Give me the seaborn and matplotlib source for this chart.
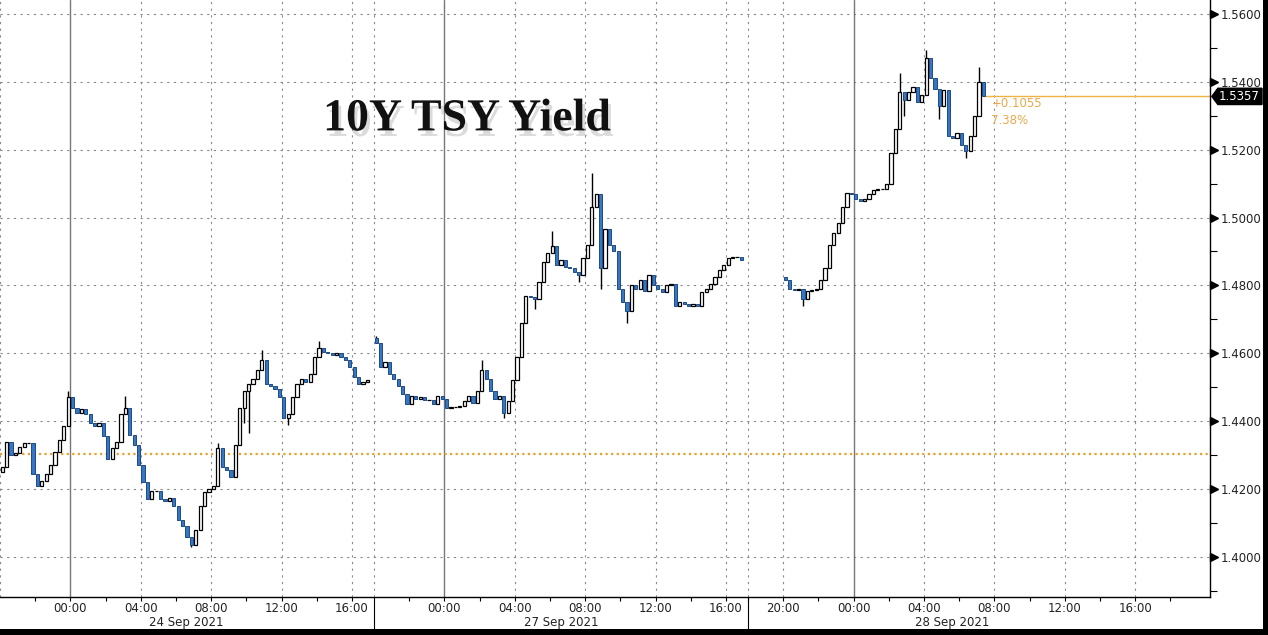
import matplotlib
matplotlib.use("Agg")
import matplotlib.pyplot as plt
import matplotlib.patheffects as pe
import matplotlib.transforms as mtransforms
from matplotlib.patches import Polygon, Rectangle
import numpy as np
import pandas as pd
import seaborn as sns

# ------------------------------------------------------------
# 10Y Treasury yield, 15-minute bars, three trading sessions
# ------------------------------------------------------------
s1_open = 1.4250
s1_close = [
    1.4265, 1.4340, 1.4300, 1.4305, 1.4325, 1.4335, 1.4335, 1.4245, 1.4210, 1.4225,
    1.4245, 1.4270, 1.4310, 1.4345, 1.4385, 1.4470, 1.4440, 1.4425, 1.4435, 1.4420,
    1.4395, 1.4385, 1.4395, 1.4355, 1.4290, 1.4320, 1.4340, 1.4420, 1.4440, 1.4360,
    1.4330, 1.4270, 1.4220, 1.4170, 1.4195, 1.4195, 1.4170, 1.4165, 1.4175, 1.4150,
    1.4110, 1.4090, 1.4060, 1.4035, 1.4080, 1.4150, 1.4190, 1.4200, 1.4210, 1.4320,
    1.4265, 1.4255, 1.4235, 1.4330, 1.4440, 1.4490, 1.4510, 1.4525, 1.4550, 1.4580,
    1.4510, 1.4505, 1.4495, 1.4470, 1.4410, 1.4420, 1.4470, 1.4510, 1.4525, 1.4515,
    1.4540, 1.4590, 1.4615, 1.4605, 1.4600, 1.4595, 1.4600, 1.4590, 1.4580, 1.4560,
    1.4530, 1.4510, 1.4515, 1.4520,
]
s1_wicks = [(15, 1.4490), (28, 1.4475), (43, 1.4030), (49, 1.4335), (55, 1.4395),
            (56, 1.4365), (59, 1.4610), (65, 1.4390), (72, 1.4635)]

s2_open = 1.4645
s2_close = [
    1.4630, 1.4560, 1.4575, 1.4540, 1.4525, 1.4505, 1.4480, 1.4450, 1.4475, 1.4465,
    1.4470, 1.4463, 1.4463, 1.4450, 1.4475, 1.4465, 1.4440, 1.4443, 1.4443, 1.4445,
    1.4460, 1.4475, 1.4455, 1.4490, 1.4550, 1.4525, 1.4490, 1.4465, 1.4475, 1.4425,
    1.4460, 1.4520, 1.4590, 1.4690, 1.4770, 1.4765, 1.4760, 1.4810, 1.4870, 1.4895,
    1.4915, 1.4860, 1.4875, 1.4855, 1.4850, 1.4840, 1.4830, 1.4880, 1.4920, 1.5030,
    1.5070, 1.4850, 1.4965, 1.4920, 1.4900, 1.4790, 1.4750, 1.4725, 1.4800, 1.4790,
    1.4815, 1.4785, 1.4830, 1.4800, 1.4790, 1.4780, 1.4800, 1.4805, 1.4740, 1.4750,
    1.4745, 1.4740, 1.4745, 1.4740, 1.4780, 1.4790, 1.4805, 1.4825, 1.4845, 1.4860,
    1.4880, 1.4885, 1.4885, 1.4875,
]
s2_wicks = [(0, 1.4650), (24, 1.4580), (29, 1.4410), (36, 1.4730), (40, 1.4960),
            (46, 1.4810), (49, 1.5130), (51, 1.4790), (57, 1.4690)]

s3_open = 1.4825
s3_close = [
    1.4815, 1.4790, 1.4787, 1.4790, 1.4760, 1.4785, 1.4787, 1.4790, 1.4815, 1.4850,
    1.4920, 1.4955, 1.4985, 1.5030, 1.5072, 1.5070, 1.5055, 1.5050, 1.5055, 1.5070,
    1.5080, 1.5085, 1.5085, 1.5100, 1.5190, 1.5260, 1.5370, 1.5345, 1.5370, 1.5385,
    1.5340, 1.5360, 1.5470, 1.5410, 1.5380, 1.5330, 1.5375, 1.5240, 1.5235, 1.5250,
    1.5215, 1.5195, 1.5240, 1.5300, 1.5400, 1.5357,
]
s3_wicks = [(4, 1.4738), (26, 1.5425), (27, 1.5300), (32, 1.5495), (35, 1.5290),
            (41, 1.5175), (44, 1.5445)]

prev_close = 1.4302

# chart hours on the compressed session axis
session_start = [0.0, 21.25, 44.5]
session_breaks = [21.25, 42.5]
tick_hours = [4, 8, 12, 16, 20,
              25.25, 29.25, 33.25, 37.25, 41.25,
              44.5, 48.5, 52.5, 56.5, 60.5, 64.5]
tick_labels = ["00:00", "04:00", "08:00", "12:00", "16:00",
               "00:00", "04:00", "08:00", "12:00", "16:00",
               "20:00", "00:00", "04:00", "08:00", "12:00", "16:00"]
midnights = [4, 25.25, 48.5]
date_labels = ["24 Sep 2021", "27 Sep 2021", "28 Sep 2021"]
date_pos = [10.6, 31.9, 54.1]

# ------------------------------------------------------------
# build candle table
# ------------------------------------------------------------
rows = []
wick_rows = []
for start, first, closes, wicks in zip(session_start,
                                       [s1_open, s2_open, s3_open],
                                       [s1_close, s2_close, s3_close],
                                       [s1_wicks, s2_wicks, s3_wicks]):
    opens = [first] + closes[:-1]
    for i, (o, c) in enumerate(zip(opens, closes)):
        rows.append({"x": start + 0.125 + 0.25 * i, "open": o, "close": c})
    for i, v in wicks:
        body = [opens[i], closes[i]]
        end = max(body) if v > max(body) else min(body)
        wick_rows.append({"x": start + 0.125 + 0.25 * i, "y0": end, "y1": v})
df = pd.DataFrame(rows)
wk = pd.DataFrame(wick_rows)

sns.set_theme(style="white")
plt.rcParams["font.family"] = ["DejaVu Sans"]

fig = plt.figure(figsize=(12.68, 6.35), dpi=100)
fig.patch.set_facecolor("white")
ax = fig.add_axes([0.0, 38 / 635, 1210 / 1268, 597 / 635])
ax.set_facecolor("white")

xmax = 68.75
ax.set_xlim(0, xmax)
ax.set_ylim(1.3882, 1.5641)

# grid
grid_kw = dict(color="#8a8a8a", lw=0.8, ls=(0, (2, 4)), zorder=1)
for v in np.arange(1.40, 1.5601, 0.02):
    ax.axhline(v, **grid_kw)
for t in [0] + tick_hours + session_breaks:
    if t in midnights:
        ax.axvline(t, color="#777777", lw=1.0, zorder=1)
    else:
        ax.axvline(t, **grid_kw)

# previous close reference
ax.axhline(prev_close, color="#e6a12e", lw=1.6, ls=(0, (1, 1.5)), zorder=1)

# candles
ax.vlines(wk.x, wk.y0, wk.y1, color="black", lw=1.0, zorder=2)
up = df[df.close >= df.open]
dn = df[df.close < df.open]
ax.bar(up.x, up.close - up.open, bottom=up.open, width=0.18,
       color="white", edgecolor="black", linewidth=0.9, zorder=3)
ax.bar(dn.x, dn.close - dn.open, bottom=dn.open, width=0.18,
       color="#3478c4", edgecolor="#1f4a85", linewidth=0.7, zorder=3)

# last value line and labels
last = s3_close[-1]
last_x = df.x.iloc[-1]
ax.hlines(last, last_x, xmax, color="#f0b443", lw=1.0, zorder=2)
chg = last - prev_close
ax.text(last_x + 0.45, 1.5335, f"+{chg:.4f}", color="#e8a94a", fontsize=8.5,
        va="center", ha="left")
ax.text(last_x + 0.45, 1.5285, f"{chg / prev_close * 100:.2f}%", color="#e8a94a",
        fontsize=8.5, va="center", ha="left")

ytrans = ax.get_yaxis_transform()
box = Polygon([[1.0015, last], [1.0065, last + 0.0024], [1.043, last + 0.0024],
               [1.043, last - 0.0024], [1.0065, last - 0.0024]],
              closed=True, transform=ytrans, facecolor="black",
              edgecolor="black", clip_on=False, zorder=6)
ax.add_patch(box)
ax.text(1.0075, last, f"{last:.4f}", transform=ytrans, color="white",
        fontsize=8.5, va="center", ha="left", zorder=7, clip_on=False)

# title
ax.text(0.386, 0.80, "10Y TSY Yield", transform=ax.transAxes,
        fontsize=33, fontweight="bold", family=["Liberation Serif", "DejaVu Serif"],
        ha="center", va="center", color="#111111", zorder=5,
        path_effects=[pe.withSimplePatchShadow(offset=(2, -4), shadow_rgbFace="#888888",
                                               alpha=0.3)])

# axes styling
for side in ["left", "top"]:
    ax.spines[side].set_visible(False)
for side in ["right", "bottom"]:
    ax.spines[side].set_visible(True)
    ax.spines[side].set_color("black")
    ax.spines[side].set_linewidth(1.0)

ax.yaxis.tick_right()
yt = np.round(np.arange(1.40, 1.5601, 0.02), 2)
ax.set_yticks(yt)
ax.set_yticklabels([f"{v:.4f}" for v in yt])
ax.set_yticks(np.round(np.arange(1.39, 1.5601, 0.02), 2), minor=True)
ax.tick_params(axis="y", which="major", length=0, pad=7.5, labelsize=8.5,
               labelcolor="#222222")
ax.tick_params(axis="y", which="minor", length=5, width=0.8, color="black",
               direction="out", right=True)
arrow_tr = mtransforms.offset_copy(ytrans, fig=fig, x=4, units="dots")
ax.plot([1.0] * len(yt), yt, transform=arrow_tr, ls="none", marker=">",
        ms=5.5, color="black", clip_on=False, zorder=6)

ax.set_xticks(tick_hours)
ax.set_xticklabels(tick_labels)
ax.set_xticks([t - 2 for t in tick_hours] + [66.5], minor=True)
ax.tick_params(axis="x", which="both", length=3, width=0.8, color="black",
               direction="out", bottom=True, pad=0.5, labelsize=8.5,
               labelcolor="#222222")

xtrans = ax.get_xaxis_transform()
for b in session_breaks:
    ax.plot([b, b], [0, -0.055], transform=xtrans, color="black", lw=0.8,
            clip_on=False)
for lab, p in zip(date_labels, date_pos):
    ax.text(p, -0.043, lab, transform=xtrans, ha="center", va="center",
            fontsize=8.5, color="#222222")

# dark frame at the bottom and right of the screenshot
fig.add_artist(Rectangle((0, 0), 1, 6 / 635, transform=fig.transFigure,
                         facecolor="black", edgecolor="none"))
fig.add_artist(Rectangle((1263 / 1268, 0), 1, 1, transform=fig.transFigure,
                         facecolor="black", edgecolor="none"))

fig.savefig("out.png", dpi=100)
